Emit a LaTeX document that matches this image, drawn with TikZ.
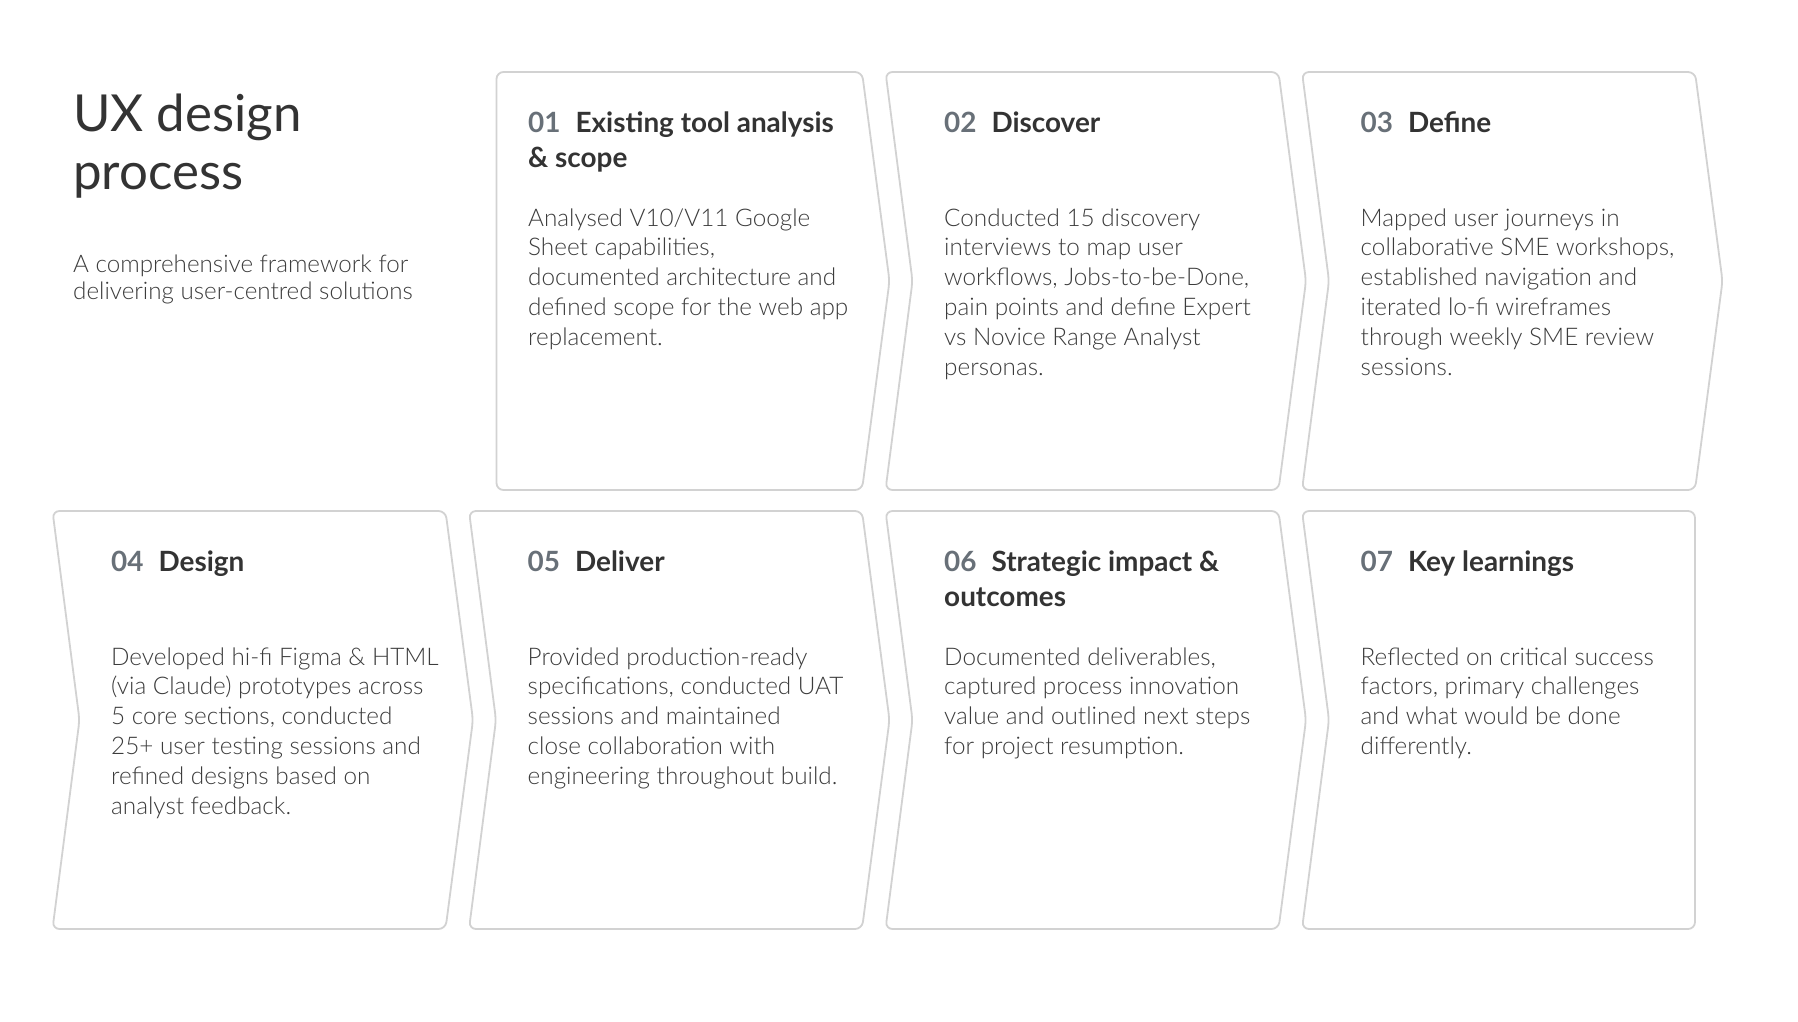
\documentclass[tikz,border=0pt]{standalone}
\usepackage{fontspec}
\setmainfont{Lato}[UprightFont=* Light, BoldFont=* Bold]
\newfontfamily\titlefont{Lato}
\usepackage{xcolor}
\definecolor{bordergray}{HTML}{D2D2D2}
\definecolor{numgray}{HTML}{687078}
\definecolor{headdark}{HTML}{333333}
\definecolor{bodygray}{HTML}{3C3C3C}
\newcommand{\mylines}[1]{\parbox[t]{420pt}{\raggedright #1}}
\begin{document}
\begin{tikzpicture}[x=1pt,y=-1pt,
  box/.style={draw=bordergray, line width=1.8pt, rounded corners=7pt, fill=white},
  body/.style={anchor=base west, inner sep=0, text=bodygray, font=\fontsize{24.3}{29.8}\selectfont},
  head/.style={anchor=base west, inner sep=0, text=headdark, font=\bfseries\fontsize{27.9}{35}\selectfont},
  ttl/.style={anchor=base west, inner sep=0, text=headdark, font=\titlefont\fontsize{51}{58}\selectfont},
  sub/.style={anchor=base west, inner sep=0, text=bodygray, font=\fontsize{24.2}{27.6}\selectfont}]
\useasboundingbox[fill=white] (0,0) rectangle (1798,1021);

% boxes row 1
\draw[box] (496.5,72) -- (862,72) -- (889.5,281) -- (862,490) -- (496.5,490) -- cycle;
\draw[box] (885.5,72) -- (1278.5,72) -- (1306,281) -- (1278.5,490) -- (885.5,490) -- (912.5,281) -- cycle;
\draw[box] (1302,72) -- (1695,72) -- (1722.5,281) -- (1695,490) -- (1302,490) -- (1329,281) -- cycle;
% boxes row 2
\draw[box] (52.5,511) -- (445.5,511) -- (473,720) -- (445.5,929) -- (52.5,929) -- (79.5,720) -- cycle;
\draw[box] (469,511) -- (862,511) -- (889.5,720) -- (862,929) -- (469,929) -- (496,720) -- cycle;
\draw[box] (885.5,511) -- (1278.5,511) -- (1306,720) -- (1278.5,929) -- (885.5,929) -- (912.5,720) -- cycle;
\draw[box] (1302,511) -- (1695,511) -- (1695,929) -- (1302,929) -- (1329,720) -- cycle;

% title
\node[ttl] (title) at (73,131) {\mylines{UX design\\process}};
\node[sub] (subtitle) at (73,272) {\mylines{A comprehensive framework for\\delivering user-centred solutions}};

% headings
\node[head] (h1) at (528,132) {\mylines{\textcolor{numgray}{01}\hspace{15pt}Existing tool analysis\\\& scope}};
\node[head] (h2) at (944,132) {\mylines{\textcolor{numgray}{02}\hspace{15pt}Discover}};
\node[head] (h3) at (1360.5,132) {\mylines{\textcolor{numgray}{03}\hspace{15pt}Define}};
\node[head] (h4) at (111,571) {\mylines{\textcolor{numgray}{04}\hspace{15pt}Design}};
\node[head] (h5) at (527.5,571) {\mylines{\textcolor{numgray}{05}\hspace{15pt}Deliver}};
\node[head] (h6) at (944,571) {\mylines{\textcolor{numgray}{06}\hspace{15pt}Strategic impact \&\\outcomes}};
\node[head] (h7) at (1360.5,571) {\mylines{\textcolor{numgray}{07}\hspace{15pt}Key learnings}};

% bodies
\node[body] (b1) at (528,226) {\mylines{Analysed V10/V11 Google\\Sheet capabilities,\\documented architecture and\\defined scope for the web app\\replacement.}};
\node[body] (b2) at (944,226) {\mylines{Conducted 15 discovery\\interviews to map user\\workflows, Jobs-to-be-Done,\\pain points and define Expert\\vs Novice Range Analyst\\personas.}};
\node[body] (b3) at (1360.5,226) {\mylines{Mapped user journeys in\\collaborative SME workshops,\\established navigation and\\iterated lo-fi wireframes\\through weekly SME review\\sessions.}};
\node[body] (b4) at (111,665) {\mylines{Developed hi-fi Figma \& HTML\\(via Claude) prototypes across\\5 core sections, conducted\\25+ user testing sessions and\\refined designs based on\\analyst feedback.}};
\node[body] (b5) at (527.5,665) {\mylines{Provided production-ready\\specifications, conducted UAT\\sessions and maintained\\close collaboration with\\engineering throughout build.}};
\node[body] (b6) at (944,665) {\mylines{Documented deliverables,\\captured process innovation\\value and outlined next steps\\for project resumption.}};
\node[body] (b7) at (1360.5,665) {\mylines{Reflected on critical success\\factors, primary challenges\\and what would be done\\differently.}};
\end{tikzpicture}
\end{document}
